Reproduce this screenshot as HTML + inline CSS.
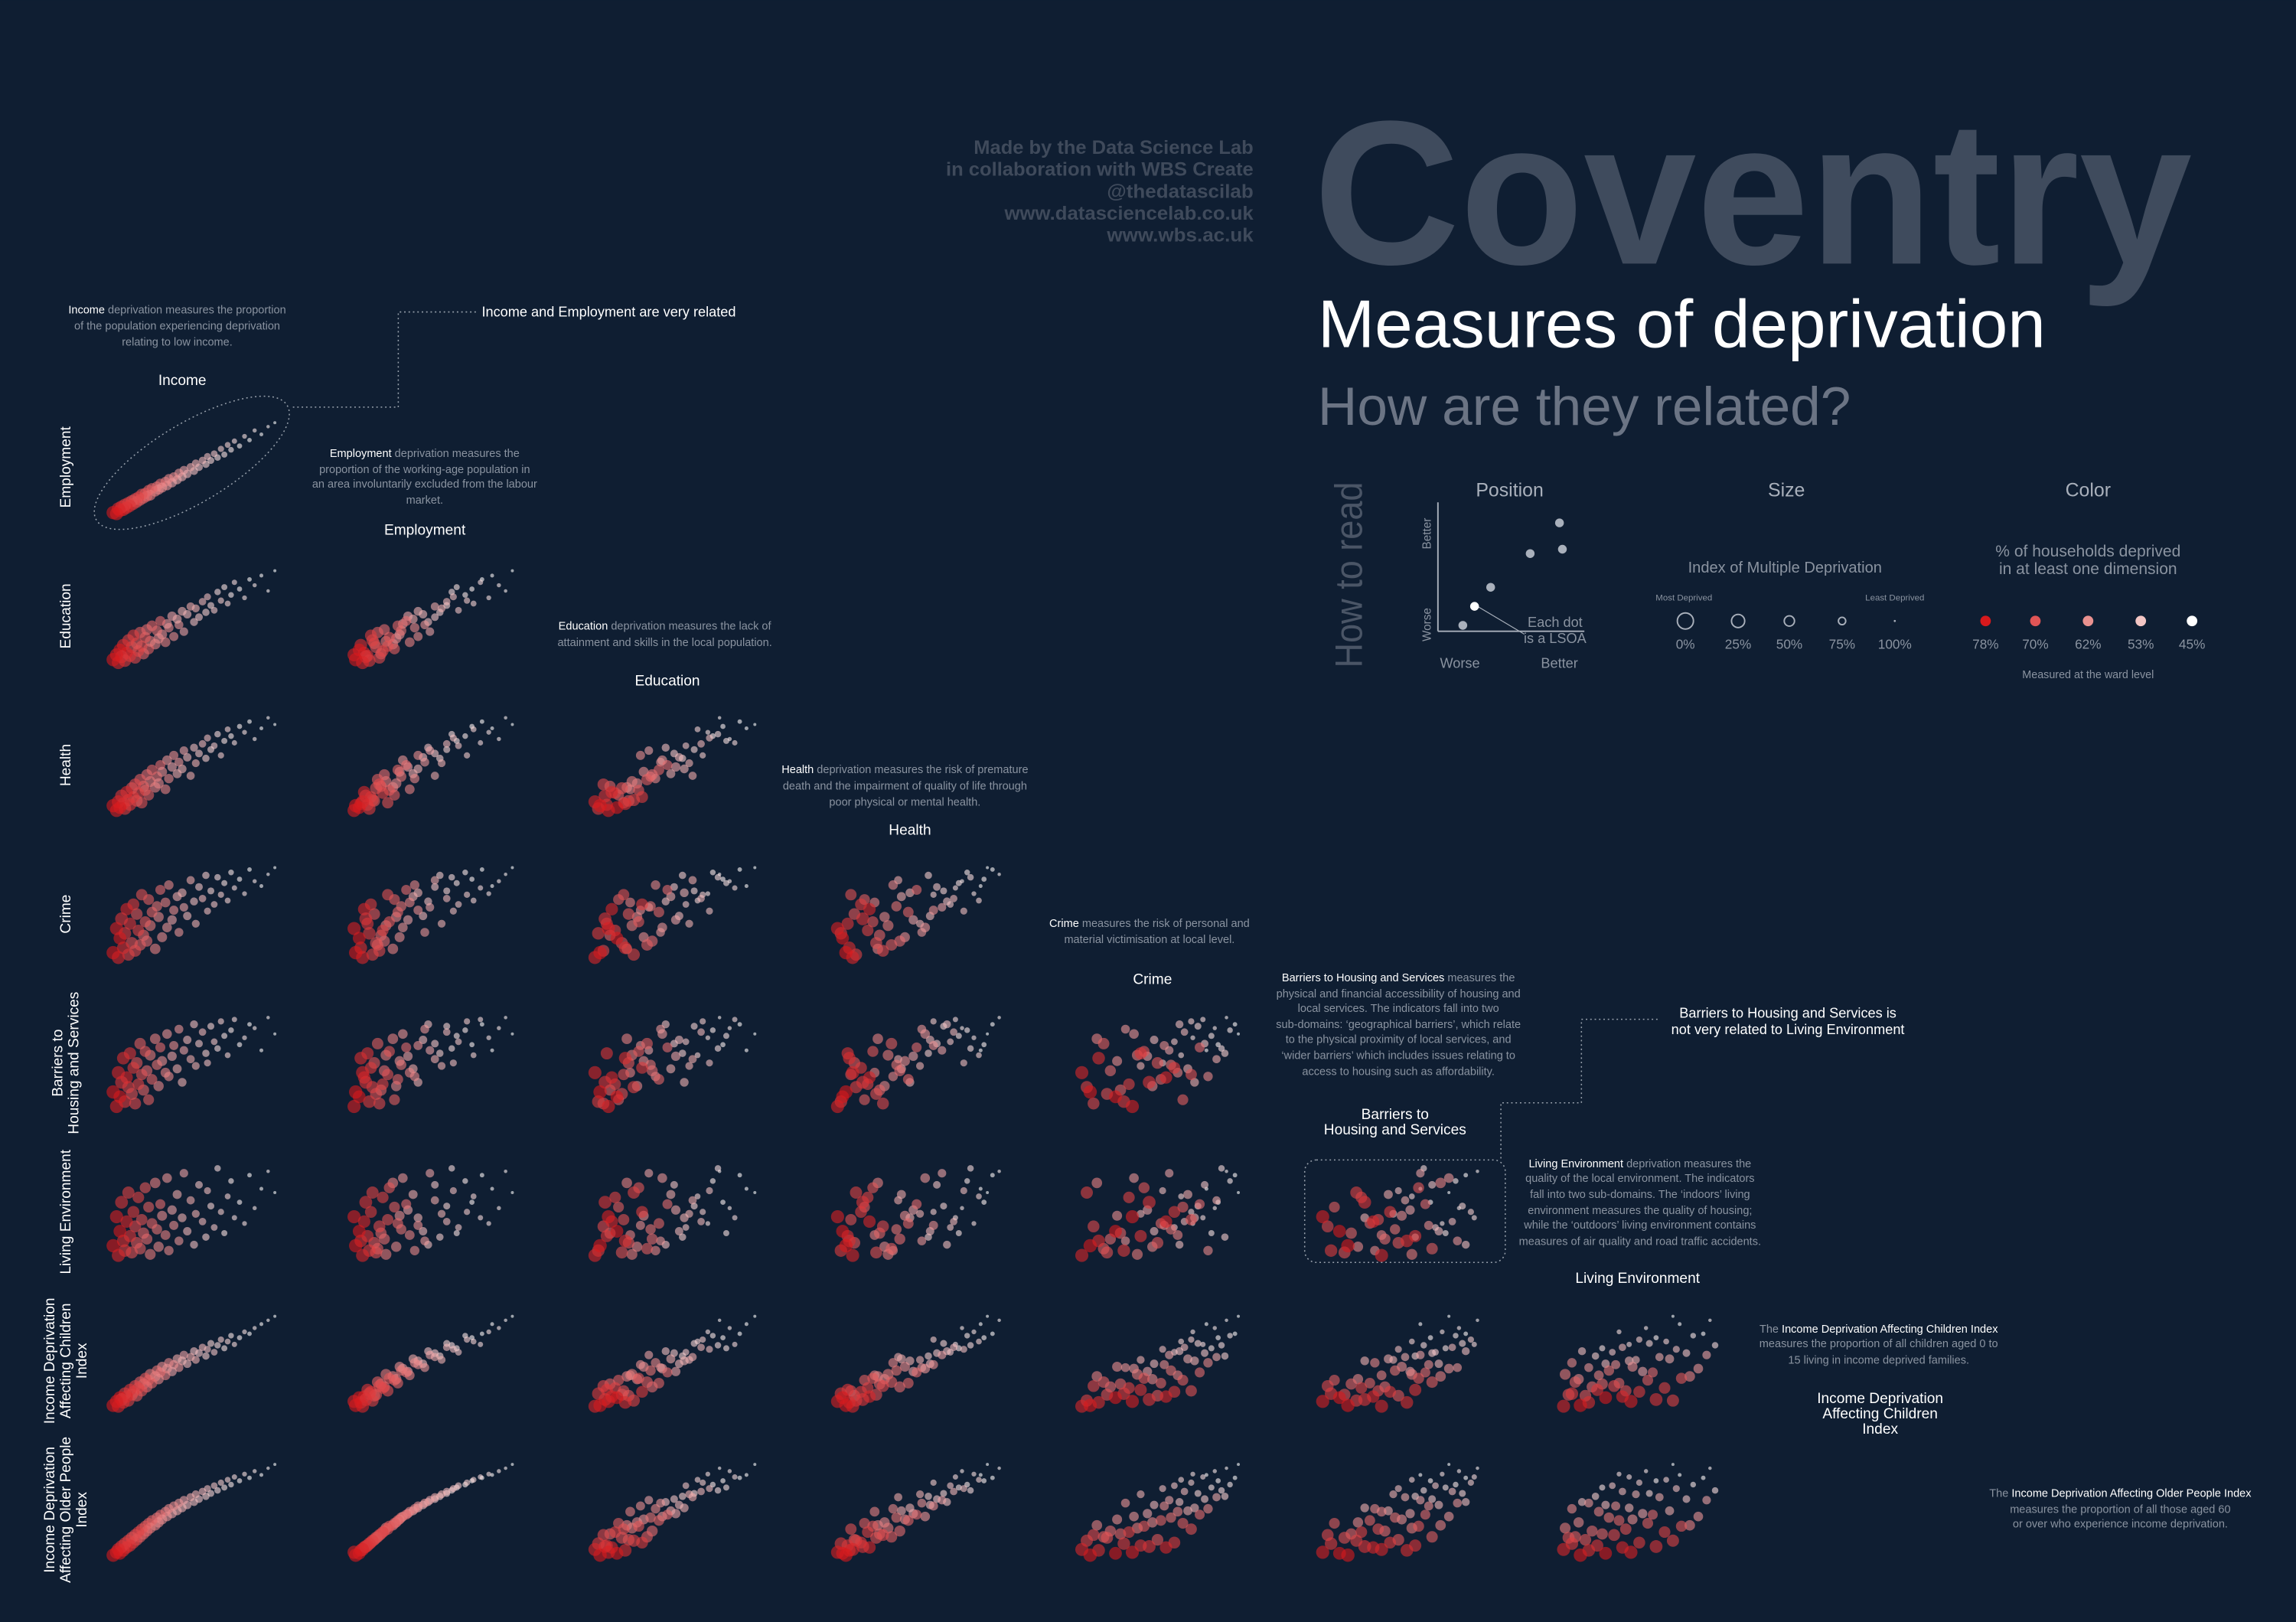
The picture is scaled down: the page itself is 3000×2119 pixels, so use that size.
<!DOCTYPE html>
<html><head><meta charset="utf-8"><style>
html,body{margin:0;padding:0;background:#0f1e32;}
svg{display:block;font-family:"Liberation Sans",sans-serif;}
</style></head><body>
<svg id="chart" width="3000" height="2119" viewBox="0 0 1568 1107.5" xmlns="http://www.w3.org/2000/svg">
<rect width="1568" height="1107.5" fill="#0f1e32"/>
<g fill="#3f4a5b" font-weight="bold" font-size="13" text-anchor="end">
<text x="856" y="105" textLength="191" lengthAdjust="spacingAndGlyphs">Made by the Data Science Lab</text>
<text x="856" y="120" textLength="210" lengthAdjust="spacingAndGlyphs">in collaboration with WBS Create</text>
<text x="856" y="135" textLength="100" lengthAdjust="spacingAndGlyphs">@thedatascilab</text>
<text x="856" y="150" textLength="170" lengthAdjust="spacingAndGlyphs">www.datasciencelab.co.uk</text>
<text x="856" y="165" textLength="100" lengthAdjust="spacingAndGlyphs">www.wbs.ac.uk</text>
</g>
<text x="897" y="180" font-size="140" font-weight="bold" fill="#3f4b5d" textLength="600" lengthAdjust="spacingAndGlyphs">Coventry</text>
<text x="900" y="237" font-size="46" fill="#ffffff" textLength="497" lengthAdjust="spacingAndGlyphs">Measures of deprivation</text>
<text x="900" y="290" font-size="37" fill="#6b7484" textLength="364" lengthAdjust="spacingAndGlyphs">How are they related?</text>

<g>
<text transform="translate(930,456) rotate(-90)" font-size="26" fill="#4a5566" textLength="127" lengthAdjust="spacingAndGlyphs">How to read</text>
<g font-size="13" fill="#a9b0bb" text-anchor="middle">
<text x="1031" y="339">Position</text><text x="1220" y="339">Size</text><text x="1426" y="339">Color</text>
</g>
<line x1="982" y1="343" x2="982" y2="431" stroke="#a9b0bb" stroke-width="1"/>
<line x1="982" y1="431" x2="1082" y2="431" stroke="#a9b0bb" stroke-width="1"/>
<text transform="translate(977,375) rotate(-90)" font-size="8" fill="#8a93a0">Better</text>
<text transform="translate(977,438) rotate(-90)" font-size="8" fill="#8a93a0">Worse</text>
<text x="997" y="456" font-size="9.5" fill="#8a93a0" text-anchor="middle">Worse</text>
<text x="1065" y="456" font-size="9.5" fill="#8a93a0" text-anchor="middle">Better</text>
<line x1="1009" y1="414" x2="1041" y2="433" stroke="#a9b0bb" stroke-width="0.6"/>
<text x="1062" y="428" font-size="9.5" fill="#8a93a0" text-anchor="middle">Each dot</text>
<text x="1062" y="439" font-size="9.5" fill="#8a93a0" text-anchor="middle">is a LSOA</text>
<g fill="#a9b0bb"><circle cx="999" cy="427" r="3"/><circle cx="1018" cy="401" r="3"/><circle cx="1045" cy="378" r="3"/><circle cx="1067" cy="375" r="3"/><circle cx="1065" cy="357" r="3"/></g>
<circle cx="1007" cy="414" r="3" fill="#fff"/>
<text x="1219" y="391" font-size="10.5" fill="#8a93a0" text-anchor="middle">Index of Multiple Deprivation</text>
<text x="1150" y="410" font-size="6" fill="#8a93a0" text-anchor="middle">Most Deprived</text>
<text x="1294" y="410" font-size="6" fill="#8a93a0" text-anchor="middle">Least Deprived</text>
<g fill="none" stroke="#a9b0bb" stroke-width="1"><circle cx="1151" cy="424" r="5.5"/><circle cx="1187" cy="424" r="4.5"/><circle cx="1222" cy="424" r="3.5"/><circle cx="1258" cy="424" r="2.5"/></g>
<circle cx="1294" cy="424" r="0.7" fill="#a9b0bb"/>
<g font-size="9" fill="#8a93a0" text-anchor="middle"><text x="1151" y="443">0%</text><text x="1187" y="443">25%</text><text x="1222" y="443">50%</text><text x="1258" y="443">75%</text><text x="1294" y="443">100%</text>
<text x="1356" y="443">78%</text><text x="1390" y="443">70%</text><text x="1426" y="443">62%</text><text x="1462" y="443">53%</text><text x="1497" y="443">45%</text></g>
<text x="1426" y="380" font-size="11" fill="#8a93a0" text-anchor="middle">% of households deprived</text>
<text x="1426" y="392" font-size="11" fill="#8a93a0" text-anchor="middle">in at least one dimension</text>
<circle cx="1356" cy="424" r="3.6" fill="#d7191c"/><circle cx="1390" cy="424" r="3.6" fill="#e05556"/><circle cx="1426" cy="424" r="3.6" fill="#e9918f"/><circle cx="1462" cy="424" r="3.6" fill="#f3c6c4"/><circle cx="1497" cy="424" r="3.6" fill="#ffffff"/>
<text x="1426" y="463" font-size="7.5" fill="#8a93a0" text-anchor="middle">Measured at the ward level</text>
</g>

<g font-size="7.6" fill="#8a93a0" text-anchor="middle">
<text x="121" y="214"><tspan fill="#fff">Income</tspan> deprivation measures the proportion</text>
<text x="121" y="225">of the population experiencing deprivation</text>
<text x="121" y="236">relating to low income.</text>
<text x="290" y="312"><tspan fill="#fff">Employment</tspan> deprivation measures the</text>
<text x="290" y="323">proportion of the working-age population in</text>
<text x="290" y="333">an area involuntarily excluded from the labour</text>
<text x="290" y="344">market.</text>
<text x="454" y="430"><tspan fill="#fff">Education</tspan> deprivation measures the lack of</text>
<text x="454" y="441">attainment and skills in the local population.</text>
<text x="618" y="528"><tspan fill="#fff">Health</tspan> deprivation measures the risk of premature</text>
<text x="618" y="539">death and the impairment of quality of life through</text>
<text x="618" y="550">poor physical or mental health.</text>
<text x="785" y="633"><tspan fill="#fff">Crime</tspan> measures the risk of personal and</text>
<text x="785" y="644">material victimisation at local level.</text>
<text x="955" y="670"><tspan fill="#fff">Barriers to Housing and Services</tspan> measures the</text>
<text x="955" y="681">physical and financial accessibility of housing and</text>
<text x="955" y="691">local services. The indicators fall into two</text>
<text x="955" y="702">sub-domains: ‘geographical barriers’, which relate</text>
<text x="955" y="712">to the physical proximity of local services, and</text>
<text x="955" y="723">‘wider barriers’ which includes issues relating to</text>
<text x="955" y="734">access to housing such as affordability.</text>
<text x="1120" y="797"><tspan fill="#fff">Living Environment</tspan> deprivation measures the</text>
<text x="1120" y="807">quality of the local environment. The indicators</text>
<text x="1120" y="818">fall into two sub-domains. The ‘indoors’ living</text>
<text x="1120" y="829">environment measures the quality of housing;</text>
<text x="1120" y="839">while the ‘outdoors’ living environment contains</text>
<text x="1120" y="850">measures of air quality and road traffic accidents.</text>
<text x="1283" y="910">The <tspan fill="#fff">Income Deprivation Affecting Children Index</tspan></text>
<text x="1283" y="920">measures the proportion of all children aged 0 to</text>
<text x="1283" y="931">15 living in income deprived families.</text>
<text x="1448" y="1022">The <tspan fill="#fff">Income Deprivation Affecting Older People Index</tspan></text>
<text x="1448" y="1033">measures the proportion of all those aged 60</text>
<text x="1448" y="1043">or over who experience income deprivation.</text>
</g>
<g font-size="9.5" fill="#fff">
<text x="329" y="216">Income and Employment are very related</text>
<text x="1221" y="695" text-anchor="middle">Barriers to Housing and Services is</text>
<text x="1221" y="706" text-anchor="middle">not very related to Living Environment</text>
</g>
<g fill="none" stroke="#9aa3ae" stroke-width="0.8" stroke-dasharray="1,2">
<ellipse cx="131" cy="316" rx="76" ry="27" transform="rotate(-31 131 316)"/>
<path d="M200 278 H272 V213 H325"/>
<path d="M1132 696 H1080 V753 H1025 V792"/>
<rect x="891" y="792" width="137" height="70" rx="8"/>
</g>
<g id="labels" font-size="10" fill="#fff" text-anchor="middle"></g>
<g id="panels"></g>
</svg>
<script>
// Scores per LSOA for each measure (0 = most deprived / worse, 1 = better)
const income   = [0.02,0.04,0.05,0.06,0.07,0.08,0.09,0.10,0.11,0.12,0.13,0.14,0.15,0.16,0.17,0.18,0.19,0.20,0.21,0.22,0.23,0.24,0.25,0.27,0.28,0.29,0.30,0.31,0.33,0.34,0.35,0.37,0.38,0.40,0.41,0.43,0.44,0.46,0.48,0.50,0.51,0.53,0.55,0.57,0.58,0.60,0.62,0.64,0.66,0.68,0.70,0.72,0.74,0.77,0.80,0.83,0.86,0.90,0.94,0.98];
const employment = [0.03,0.02,0.07,0.05,0.09,0.06,0.11,0.08,0.13,0.10,0.15,0.12,0.17,0.14,0.19,0.16,0.22,0.18,0.23,0.20,0.26,0.21,0.28,0.25,0.30,0.27,0.33,0.29,0.35,0.31,0.38,0.34,0.40,0.37,0.44,0.40,0.47,0.43,0.50,0.46,0.54,0.50,0.57,0.53,0.61,0.57,0.64,0.60,0.69,0.63,0.73,0.68,0.77,0.72,0.82,0.78,0.88,0.84,0.92,0.96];
const education = [0.05,0.10,0.02,0.15,0.08,0.20,0.04,0.12,0.25,0.09,0.18,0.30,0.07,0.22,0.14,0.33,0.19,0.11,0.28,0.36,0.16,0.24,0.40,0.21,0.35,0.27,0.45,0.31,0.23,0.42,0.38,0.50,0.29,0.47,0.41,0.55,0.34,0.52,0.60,0.44,0.58,0.49,0.65,0.54,0.70,0.61,0.56,0.75,0.66,0.80,0.63,0.72,0.85,0.78,0.69,0.88,0.82,0.92,0.76,0.97];
const health = [0.08,0.03,0.12,0.06,0.18,0.10,0.05,0.22,0.14,0.09,0.26,0.17,0.30,0.13,0.21,0.35,0.11,0.28,0.24,0.40,0.19,0.33,0.45,0.27,0.38,0.31,0.50,0.43,0.25,0.55,0.36,0.48,0.60,0.41,0.53,0.46,0.65,0.58,0.39,0.68,0.52,0.62,0.72,0.57,0.78,0.66,0.70,0.82,0.60,0.75,0.87,0.80,0.73,0.90,0.84,0.95,0.77,0.88,0.99,0.92];
const crime = [0.10,0.35,0.05,0.25,0.45,0.15,0.30,0.55,0.08,0.40,0.20,0.60,0.12,0.50,0.33,0.18,0.70,0.28,0.42,0.22,0.65,0.38,0.52,0.14,0.58,0.47,0.75,0.26,0.62,0.36,0.80,0.44,0.54,0.68,0.31,0.72,0.57,0.48,0.85,0.63,0.40,0.78,0.66,0.90,0.53,0.74,0.60,0.88,0.70,0.82,0.64,0.93,0.77,0.86,0.71,0.96,0.84,0.79,0.91,0.98];
const barriers = [0.20,0.05,0.40,0.15,0.30,0.55,0.10,0.35,0.25,0.60,0.18,0.45,0.08,0.50,0.28,0.70,0.38,0.22,0.62,0.42,0.12,0.58,0.33,0.75,0.48,0.26,0.66,0.52,0.40,0.80,0.36,0.57,0.68,0.44,0.85,0.30,0.63,0.74,0.54,0.90,0.47,0.70,0.82,0.60,0.50,0.88,0.72,0.65,0.93,0.78,0.58,0.84,0.95,0.69,0.76,0.90,0.86,0.63,0.97,0.80];
const livingEnv = [0.15,0.45,0.05,0.30,0.60,0.20,0.10,0.40,0.70,0.25,0.08,0.50,0.35,0.18,0.65,0.12,0.42,0.28,0.75,0.22,0.55,0.06,0.38,0.80,0.32,0.14,0.58,0.46,0.26,0.85,0.10,0.52,0.36,0.68,0.20,0.44,0.90,0.30,0.62,0.16,0.48,0.78,0.40,0.24,0.72,0.56,0.34,0.95,0.50,0.28,0.66,0.82,0.44,0.60,0.38,0.88,0.54,0.74,0.92,0.70];
const idaci = [0.04,0.08,0.03,0.12,0.10,0.07,0.16,0.13,0.09,0.20,0.15,0.18,0.24,0.14,0.22,0.28,0.19,0.26,0.32,0.23,0.30,0.36,0.27,0.34,0.40,0.31,0.38,0.44,0.35,0.42,0.48,0.39,0.46,0.52,0.43,0.50,0.56,0.47,0.54,0.60,0.51,0.58,0.64,0.55,0.62,0.68,0.59,0.66,0.72,0.63,0.70,0.76,0.67,0.74,0.80,0.78,0.84,0.88,0.92,0.96];
const idaopi = [0.03,0.06,0.09,0.05,0.12,0.08,0.15,0.11,0.18,0.13,0.21,0.16,0.24,0.19,0.27,0.22,0.30,0.25,0.33,0.28,0.36,0.31,0.39,0.34,0.42,0.37,0.45,0.40,0.48,0.43,0.51,0.46,0.54,0.49,0.57,0.52,0.60,0.55,0.63,0.58,0.66,0.61,0.69,0.64,0.72,0.67,0.75,0.70,0.78,0.73,0.81,0.76,0.84,0.80,0.87,0.83,0.90,0.86,0.93,0.97];
// IMD rank percentile (0 = most deprived) -> dot size
const imdRank = [0.01,0.03,0.04,0.06,0.06,0.08,0.09,0.10,0.12,0.12,0.14,0.15,0.15,0.17,0.18,0.19,0.20,0.21,0.23,0.23,0.25,0.25,0.27,0.28,0.30,0.30,0.33,0.33,0.35,0.36,0.38,0.39,0.41,0.42,0.44,0.45,0.47,0.48,0.50,0.52,0.53,0.55,0.57,0.58,0.61,0.62,0.64,0.66,0.68,0.70,0.72,0.74,0.77,0.79,0.82,0.85,0.88,0.91,0.95,0.99];
// % households deprived in at least one dimension (ward) -> colour
const hhDeprived = [78,77,76,78,74,75,73,76,72,74,70,73,71,69,72,68,70,67,69,66,68,64,67,63,65,62,66,61,63,60,62,58,61,57,60,56,58,55,57,54,56,53,55,52,54,51,53,50,52,49,51,48,50,47,49,46,48,46,47,45];
const rowMeasures = [employment,education,health,crime,barriers,livingEnv,idaci,idaopi];
const colMeasures = [income,employment,education,health,crime,barriers,livingEnv];
const rowNames = [["Employment"],["Education"],["Health"],["Crime"],["Barriers to","Housing and Services"],["Living Environment"],["Income Deprivation","Affecting Children","Index"],["Income Deprivation","Affecting Older People","Index"]];
const colNames = [["Income"],["Employment"],["Education"],["Health"],["Crime"],["Barriers to","Housing and Services"],["Living Environment"],["Income Deprivation","Affecting Children","Index"]];

const NS="http://www.w3.org/2000/svg";
const panelsG=document.getElementById('panels');
const labelsG=document.getElementById('labels');
const colLeft=c=>70+164.5*c, rowTop=r=>283+101.7*r, PW=125, PH=72;
function xScale(c,v){return colLeft(c)+5+v*(PW-10);}
function yScale(r,v){return rowTop(r)+PH-3-v*(PH-6);}
function rScale(v){return 1.0+(1-v)*3.6;}
function colour(p){const t=Math.max(0,Math.min(1,(78-p)/33));
  const r=Math.round(215+(255-215)*t),g=Math.round(25+(255-25)*t),b=Math.round(28+(255-28)*t);return `rgb(${r},${g},${b})`;}

for(let r=0;r<rowMeasures.length;r++){
  for(let c=0;c<=r&&c<colMeasures.length;c++){
    const g=document.createElementNS(NS,'g');
    
    
    const order=income.map((_,i)=>i).sort((a,b)=>imdRank[b]-imdRank[a]);
    for(const i of order){
      const dot=document.createElementNS(NS,'circle');
      
      
      dot.setAttribute('cx',xScale(c,colMeasures[c][i]).toFixed(1));
      dot.setAttribute('cy',yScale(r,rowMeasures[r][i]).toFixed(1));
      dot.setAttribute('r',rScale(imdRank[i]).toFixed(2));
      dot.setAttribute('fill',colour(hhDeprived[i]));
      dot.setAttribute('fill-opacity','0.6');
      g.appendChild(dot);
    }
    panelsG.appendChild(g);
  }
}
rowNames.forEach((lines,r)=>{
  const t=document.createElementNS(NS,'text');
  
  
  const cy=rowTop(r)+PH/2, n=lines.length;
  t.setAttribute('transform',`translate(${48-(n-1)*5.5},${cy}) rotate(-90)`);
  lines.forEach((l,k)=>{const s=document.createElementNS(NS,'tspan');s.setAttribute('x','0');s.setAttribute('dy',k?'11':'0');s.textContent=l;t.appendChild(s);});
  labelsG.appendChild(t);
});
const colTitleY=[263,365,468,570,672,764,876,958];
colNames.forEach((lines,c)=>{
  const t=document.createElementNS(NS,'text');
  
  
  const cx=colLeft(c)+PW/2-8+8*c/7;
  lines.forEach((l,k)=>{const s=document.createElementNS(NS,'tspan');s.setAttribute('x',cx);s.setAttribute('y',colTitleY[c]+k*10.5);s.textContent=l;t.appendChild(s);});
  labelsG.appendChild(t);
});
</script>
</body></html>
